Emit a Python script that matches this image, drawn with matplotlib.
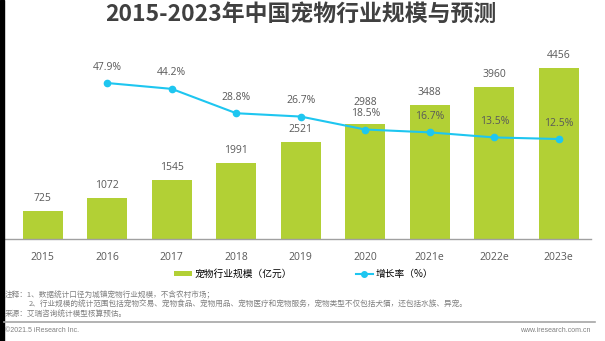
import matplotlib
matplotlib.use('Agg')
import matplotlib.pyplot as plt
from matplotlib.patches import Rectangle, Patch
from matplotlib.lines import Line2D
import numpy as np

plt.rcParams['font.family'] = ['Open Sans', 'Noto Sans CJK SC', 'DejaVu Sans']

# data
years = ['2015', '2016', '2017', '2018', '2019', '2020', '2021e', '2022e', '2023e']
scale = [725, 1072, 1545, 1991, 2521, 2988, 3488, 3960, 4456]
growth = [None, 47.9, 44.2, 28.8, 26.7, 18.5, 16.7, 13.5, 12.5]

bar_color = '#b2d035'
line_color = '#1ec6f0'
text_color = '#595959'

W, H = 605, 341
fig = plt.figure(figsize=(W / 100, H / 100), dpi=100)
fig.patch.set_facecolor('white')

# axes placed in pixel terms
left, right, bottom, top = 4, 591, 239, 60
ax = fig.add_axes([left / W, (H - bottom) / H, (right - left) / W, (bottom - top) / H])
x = np.arange(len(years))
bars = ax.bar(x, scale, width=0.62, color=bar_color, zorder=2)
ax.set_xlim(-0.6, 8.5)
ax.set_ylim(0, 4664)
ax.set_xticks(x)
ax.set_xticklabels(years, fontsize=7.5, color=text_color)
ax.tick_params(axis='x', length=0, pad=9)
ax.set_yticks([])
for s in ['top', 'right', 'left']:
    ax.spines[s].set_visible(False)
ax.spines['bottom'].set_color('#a0a0a0')
ax.spines['bottom'].set_linewidth(1.0)

for i, v in enumerate(scale):
    off = 16 if years[i] == '2020' else 9
    ax.annotate(str(v), (x[i], v), xytext=(0, off), textcoords='offset points',
                ha='center', va='center', fontsize=7.5, color=text_color)

ax2 = ax.twinx()
gx = [x[i] for i in range(len(years)) if growth[i] is not None]
gy = [g for g in growth if g is not None]
ax2.plot(gx, gy, color=line_color, lw=1.5, marker='o', ms=4.5, zorder=3)
ax2.set_ylim(-50.7, 62.45)
ax2.set_yticks([])
for s in ['top', 'right', 'left', 'bottom']:
    ax2.spines[s].set_visible(False)
for xi, g in zip(gx, gy):
    ax2.annotate('%.1f%%' % g, (xi, g), xytext=(0, 11.5), textcoords='offset points',
                 ha='center', va='center', fontsize=7.5, color=text_color)

# title
fig.text(301 / W, 1 - 14 / H, '2015-2023年中国宠物行业规模与预测', ha='center', va='center',
         fontsize=16.5, fontweight='bold', color='#404040', family=['Noto Sans CJK SC'])

# legend
handles = [Patch(facecolor=bar_color, edgecolor='none'),
           Line2D([], [], color=line_color, lw=1.5, marker='o', ms=4)]
fig.legend(handles, ['宠物行业规模（亿元）', '增长率（%）'], loc='center',
           bbox_to_anchor=(304 / W, 1 - 274 / H), ncol=2, frameon=False,
           fontsize=7, handlelength=1.8, handleheight=0.45, handletextpad=0.3,
           columnspacing=6.5, prop={'family': ['Noto Sans CJK SC'], 'size': 7})

# notes
note_kw = dict(fontsize=5.5, color='#808080', va='center', ha='left', family=['Noto Sans CJK SC'])
fig.text(5 / W, 1 - 295 / H, '注释：1、数据统计口径为城镇宠物行业规模，不含农村市场；', **note_kw)
fig.text(29 / W, 1 - 305 / H, '2、行业规模的统计范围包括宠物交易、宠物食品、宠物用品、宠物医疗和宠物服务，宠物类型不仅包括犬猫，还包括水族、异宠。', **note_kw)
fig.text(5 / W, 1 - 315 / H, '来源：艾瑞咨询统计模型核算预估。', **note_kw)

fig.add_artist(Line2D([4 / W, 595 / W], [1 - 322 / H, 1 - 322 / H], color='#a6a6a6', lw=1.2,
                      transform=fig.transFigure))
fig.text(5 / W, 1 - 331 / H, '©2021.5 iResearch Inc.', fontsize=5, color='#808080',
         va='center', ha='left', family=['Liberation Sans'])
fig.text(591 / W, 1 - 331 / H, 'www.iresearch.com.cn', fontsize=5, color='#808080',
         va='center', ha='right', family=['Liberation Sans'])

# black frame edge on the left
fig.add_artist(Rectangle((0, 0), 3.5 / W, 1, transform=fig.transFigure, color='black'))

fig.savefig('out.png', dpi=100)
